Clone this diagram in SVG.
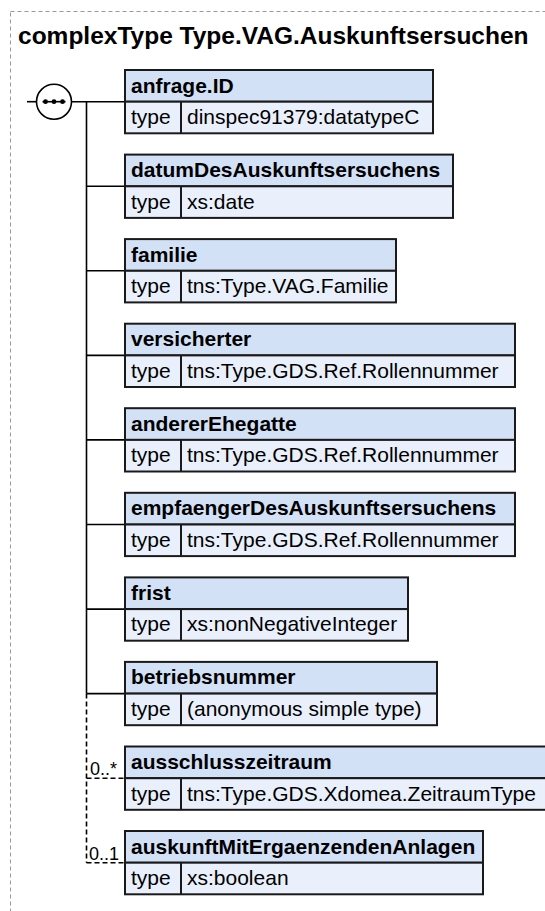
<svg xmlns="http://www.w3.org/2000/svg" width="545" height="911" viewBox="0 0 545 911">
<style>
.hd{fill:#d3e1f7;stroke:#1a1a1a;stroke-width:2}
.rw{fill:#e9f0fb;stroke:#1a1a1a;stroke-width:2}
.sep{stroke:#1a1a1a;stroke-width:2}
.nm{font-family:"Liberation Sans",Arial,sans-serif;font-weight:bold;font-size:21px;fill:#000}
.tx{font-family:"Liberation Sans",Arial,sans-serif;font-size:21px;fill:#000}
.lb{font-family:"Liberation Sans",Arial,sans-serif;font-size:18px;fill:#000}
.ln{stroke:#000;stroke-width:1.6;fill:none}
.dl{stroke:#000;stroke-width:1.6;fill:none;stroke-dasharray:5,3}
</style>
<rect x="10.5" y="11.5" width="700" height="1000" fill="none" stroke="#999" stroke-width="1" stroke-dasharray="4,3"/>
<text x="18" y="44" font-family="'Liberation Sans',Arial,sans-serif" font-weight="bold" font-size="24.5px">complexType Type.VAG.Auskunftsersuchen</text>

<g id="connectors">
<line class="ln" x1="27" y1="101.7" x2="37" y2="101.7"/>
<line class="ln" x1="71" y1="101.7" x2="125" y2="101.7"/>
<line class="ln" x1="86.5" y1="101.7" x2="86.5" y2="693.6"/>
<line class="dl" x1="86.5" y1="693.6" x2="86.5" y2="862.7"/>
<line class="ln" x1="86.5" y1="186.3" x2="125" y2="186.3"/>
<line class="ln" x1="86.5" y1="270.8" x2="125" y2="270.8"/>
<line class="ln" x1="86.5" y1="355.4" x2="125" y2="355.4"/>
<line class="ln" x1="86.5" y1="439.9" x2="125" y2="439.9"/>
<line class="ln" x1="86.5" y1="524.5" x2="125" y2="524.5"/>
<line class="ln" x1="86.5" y1="609.1" x2="125" y2="609.1"/>
<line class="ln" x1="86.5" y1="693.6" x2="125" y2="693.6"/>
<line class="dl" x1="86.5" y1="778.2" x2="125" y2="778.2"/>
<line class="dl" x1="86.5" y1="862.7" x2="125" y2="862.7"/>
<text class="lb" x="90" y="775">0..*</text>
<text class="lb" x="89" y="859.5">0..1</text>
</g>

<g id="sequence">
<circle cx="54" cy="101.7" r="17.5" fill="#fff" stroke="#000" stroke-width="1.6"/>
<line x1="42.5" y1="101.7" x2="65.5" y2="101.7" stroke="#000" stroke-width="1.6"/>
<circle cx="45.5" cy="101.7" r="2.4" fill="#000"/>
<circle cx="54" cy="101.7" r="2.4" fill="#000"/>
<circle cx="62.5" cy="101.7" r="2.4" fill="#000"/>
</g>

<g id="anfrage.ID">
<rect class="hd" x="125" y="70" width="308" height="31.7"/>
<rect class="rw" x="125" y="101.7" width="308" height="31.6"/>
<line class="sep" x1="181" y1="101.7" x2="181" y2="133.3"/>
<text class="nm" x="131" y="92.5">anfrage.ID</text>
<text class="tx" x="131" y="124">type</text>
<text class="tx" x="187" y="124">dinspec91379:datatypeC</text>
</g>

<g id="datumDesAuskunftsersuchens">
<rect class="hd" x="125" y="154.6" width="328" height="31.7"/>
<rect class="rw" x="125" y="186.3" width="328" height="31.6"/>
<line class="sep" x1="181" y1="186.3" x2="181" y2="217.9"/>
<text class="nm" x="131" y="177.1">datumDesAuskunftsersuchens</text>
<text class="tx" x="131" y="208.6">type</text>
<text class="tx" x="187" y="208.6">xs:date</text>
</g>

<g id="familie">
<rect class="hd" x="125" y="239.1" width="271" height="31.7"/>
<rect class="rw" x="125" y="270.8" width="271" height="31.6"/>
<line class="sep" x1="181" y1="270.8" x2="181" y2="302.4"/>
<text class="nm" x="131" y="261.6">familie</text>
<text class="tx" x="131" y="293.1">type</text>
<text class="tx" x="187" y="293.1">tns:Type.VAG.Familie</text>
</g>

<g id="versicherter">
<rect class="hd" x="125" y="323.7" width="390" height="31.7"/>
<rect class="rw" x="125" y="355.4" width="390" height="31.6"/>
<line class="sep" x1="181" y1="355.4" x2="181" y2="387"/>
<text class="nm" x="131" y="346.2">versicherter</text>
<text class="tx" x="131" y="377.7">type</text>
<text class="tx" x="187" y="377.7">tns:Type.GDS.Ref.Rollennummer</text>
</g>

<g id="andererEhegatte">
<rect class="hd" x="125" y="408.2" width="390" height="31.7"/>
<rect class="rw" x="125" y="439.9" width="390" height="31.6"/>
<line class="sep" x1="181" y1="439.9" x2="181" y2="471.5"/>
<text class="nm" x="131" y="430.7">andererEhegatte</text>
<text class="tx" x="131" y="462.2">type</text>
<text class="tx" x="187" y="462.2">tns:Type.GDS.Ref.Rollennummer</text>
</g>

<g id="empfaengerDesAuskunftsersuchens">
<rect class="hd" x="125" y="492.8" width="390" height="31.7"/>
<rect class="rw" x="125" y="524.5" width="390" height="31.6"/>
<line class="sep" x1="181" y1="524.5" x2="181" y2="556.1"/>
<text class="nm" x="131" y="515.3">empfaengerDesAuskunftsersuchens</text>
<text class="tx" x="131" y="546.8">type</text>
<text class="tx" x="187" y="546.8">tns:Type.GDS.Ref.Rollennummer</text>
</g>

<g id="frist">
<rect class="hd" x="125" y="577.4" width="283" height="31.7"/>
<rect class="rw" x="125" y="609.1" width="283" height="31.6"/>
<line class="sep" x1="181" y1="609.1" x2="181" y2="640.7"/>
<text class="nm" x="131" y="599.9">frist</text>
<text class="tx" x="131" y="631.4">type</text>
<text class="tx" x="187" y="631.4">xs:nonNegativeInteger</text>
</g>

<g id="betriebsnummer">
<rect class="hd" x="125" y="661.9" width="312" height="31.7"/>
<rect class="rw" x="125" y="693.6" width="312" height="31.6"/>
<line class="sep" x1="181" y1="693.6" x2="181" y2="725.2"/>
<text class="nm" x="131" y="684.4">betriebsnummer</text>
<text class="tx" x="131" y="715.9">type</text>
<text class="tx" x="187" y="715.9">(anonymous simple type)</text>
</g>

<g id="ausschlusszeitraum">
<rect class="hd" x="125" y="746.5" width="430" height="31.7"/>
<rect class="rw" x="125" y="778.2" width="430" height="31.6"/>
<line class="sep" x1="181" y1="778.2" x2="181" y2="809.8"/>
<text class="nm" x="131" y="769">ausschlusszeitraum</text>
<text class="tx" x="131" y="800.5">type</text>
<text class="tx" x="187" y="800.5">tns:Type.GDS.Xdomea.ZeitraumType</text>
</g>

<g id="auskunftMitErgaenzendenAnlagen">
<rect class="hd" x="125" y="831" width="358" height="31.7"/>
<rect class="rw" x="125" y="862.7" width="358" height="31.6"/>
<line class="sep" x1="181" y1="862.7" x2="181" y2="894.3"/>
<text class="nm" x="131" y="853.5">auskunftMitErgaenzendenAnlagen</text>
<text class="tx" x="131" y="885">type</text>
<text class="tx" x="187" y="885">xs:boolean</text>
</g>
</svg>
